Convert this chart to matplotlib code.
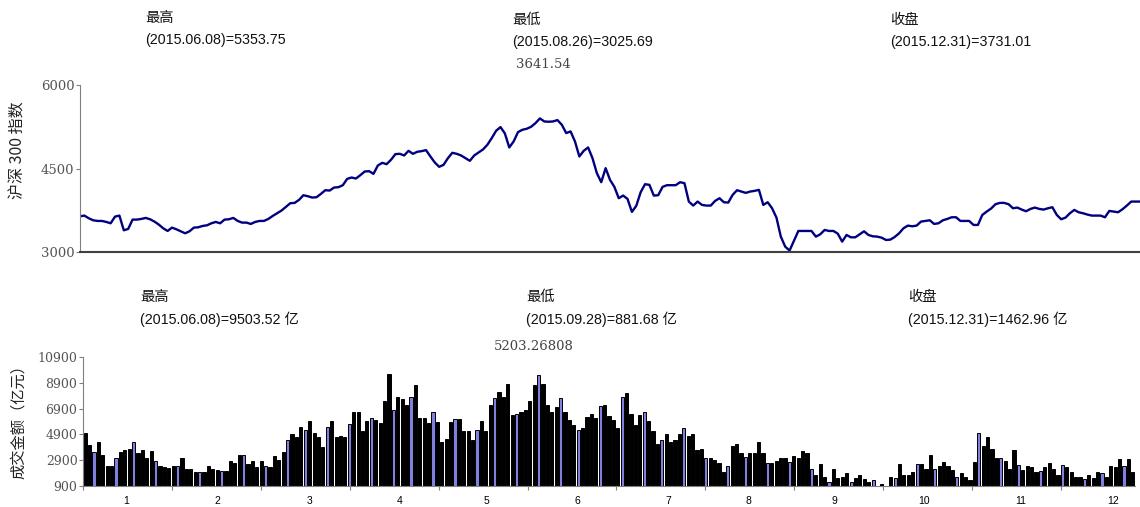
import numpy as np
import matplotlib
matplotlib.use('Agg')
import matplotlib.pyplot as plt

# CSI 300 daily close, 2015
index_close = [
    3642, 3654, 3606, 3570, 3558, 3558, 3540, 3516, 3636, 3654,
    3390, 3414, 3582, 3582, 3594, 3612, 3588, 3546, 3492, 3426,
    3378, 3438, 3408, 3372, 3336, 3372, 3438, 3444, 3468, 3480,
    3516, 3540, 3516, 3582, 3588, 3612, 3558, 3528, 3528, 3504,
    3540, 3558, 3558, 3594, 3648, 3696, 3744, 3810, 3876, 3882,
    3936, 4020, 4002, 3978, 3984, 4044, 4110, 4104, 4158, 4164,
    4200, 4314, 4338, 4320, 4380, 4446, 4452, 4404, 4554, 4602,
    4578, 4656, 4758, 4764, 4734, 4818, 4764, 4800, 4812, 4830,
    4716, 4608, 4530, 4566, 4686, 4782, 4764, 4734, 4686, 4638,
    4734, 4788, 4842, 4926, 5046, 5178, 5244, 5130, 4878, 4986,
    5154, 5196, 5214, 5250, 5316, 5400, 5345, 5340, 5345, 5370,
    5286, 5136, 5166, 4986, 4716, 4818, 4878, 4686, 4416, 4254,
    4506, 4296, 4170, 3966, 4014, 3954, 3720, 3830, 4074, 4218,
    4206, 4014, 4020, 4170, 4200, 4200, 4200, 4254, 4236, 3906,
    3834, 3906, 3846, 3834, 3834, 3918, 3966, 3894, 3888, 4026,
    4110, 4086, 4062, 4086, 4098, 4116, 3846, 3894, 3786, 3618,
    3276, 3096, 3026, 3204, 3378, 3378, 3378, 3378, 3276, 3318,
    3396, 3378, 3378, 3330, 3186, 3306, 3264, 3264, 3318, 3372,
    3306, 3282, 3276, 3258, 3216, 3222, 3270, 3336, 3426, 3474,
    3462, 3474, 3546, 3558, 3570, 3504, 3516, 3570, 3594, 3624,
    3624, 3558, 3558, 3558, 3486, 3486, 3666, 3726, 3780, 3858,
    3882, 3882, 3858, 3786, 3798, 3762, 3732, 3774, 3798, 3774,
    3762, 3786, 3804, 3666, 3588, 3618, 3696, 3756, 3714, 3696,
    3672, 3654, 3654, 3654, 3624, 3738, 3726, 3714, 3768, 3834,
    3906, 3906, 3906,
]

# daily turnover, 100 million yuan
turnover = [
    5030, 4056, 3530, 4319, 3320, 2478, 2478, 3057, 3530, 3714,
    3793, 4319, 3451, 3662, 3083, 3583, 2820, 2478, 2347, 2268,
    2478, 2478, 3083, 2215, 2215, 1952, 1952, 1952, 2478, 2215,
    2136, 2084, 2084, 2820, 2715, 3320, 3320, 2583, 2820, 2347,
    2820, 2425, 2347, 3188, 2951, 3530, 4503, 4898, 4661, 5502,
    5240, 5976, 5030, 4661, 3924, 5502, 5976, 4661, 4766, 4661,
    5713, 6607, 6607, 5161, 5976, 6134, 6028, 5766, 7475, 9553,
    6817, 7817, 7607, 7212, 7791, 8711, 6134, 6134, 5766, 6607,
    5897, 4319, 4529, 5897, 6107, 6107, 5161, 5161, 4451, 5240,
    5976, 5161, 7212, 7685, 8185, 7817, 8790, 6370, 6476, 6607,
    6817, 7475, 8711, 9503.52, 8790, 7212, 6633, 7002, 7685, 6633,
    6028, 5634, 5240, 5371, 6239, 6476, 6134, 7081, 7212, 6292,
    6028, 5371, 7791, 8080, 6502, 5634, 6370, 6607, 5976, 5187,
    4188, 4451, 4898, 4319, 4451, 4898, 5371, 4793, 4898, 3714,
    3793, 3057, 3057, 2951, 2688, 1952, 2452, 4030, 4135, 3451,
    3136, 3451, 3451, 4319, 3451, 2688, 2688, 2820, 3057, 3083,
    2794, 3188, 3083, 3583, 3451, 2215, 1768, 2610, 1610, 1242,
    2215, 1505, 1610, 1873, 1216, 1505, 1742, 1426, 1242, 1373,
    881.68, 1030, 890, 1610, 1505, 2610, 1768, 1768, 2005, 2610,
    2610, 2215, 3320, 2215, 2478, 2741, 2478, 2136, 1610, 1873,
    1636, 1400, 2741, 5030, 3977, 4661, 3793, 3083, 3083, 2873,
    2215, 3714, 2557, 2136, 2478, 2347, 2005, 2084, 2347, 2715,
    2215, 1768, 2557, 2347, 2005, 1610, 1610, 1479, 1742, 1505,
    2005, 1873, 1610, 2478, 2347, 2978, 2478, 2978, 2005,
]

# bars drawn in the lighter colour (one per week)
weekly_mark = [2, 7, 11, 16, 21, 26, 31, 36, 41, 46, 50, 55, 60, 65, 70,
               74, 79, 84, 89, 93, 98, 103, 108, 112, 117, 122, 127, 131,
               136, 141, 146, 150, 155, 160, 165, 169, 174, 179, 184, 189,
               193, 198, 203, 208, 212, 217, 222, 227, 231, 236]

month_labels = [str(m) for m in range(1, 13)]
month_label_pos = [9.3, 30, 50.9, 71.5, 91.1, 111.8, 132.5, 150.6, 170.2,
                   190.6, 212.5, 233.6]

W, H = 1140, 507
fig = plt.figure(figsize=(W / 100, H / 100), dpi=100)

sans = ['Liberation Sans', 'Noto Sans CJK SC', 'DejaVu Sans']
cjk = ['Noto Sans CJK SC', 'DejaVu Sans']
serif = 'DejaVu Serif'


def fx(x):
    return x / W


def fy(y):
    return 1 - y / H


# ---- index line
axt = fig.add_axes([fx(80), fy(252), (1140 - 80) / W, (252 - 85) / H])
axt.plot(np.arange(len(index_close)), index_close, color='#000080', lw=1.7)
axt.set_xlim(0, len(index_close) - 1)
axt.set_ylim(3000, 6000)
axt.set_yticks([3000, 4500, 6000])
axt.set_xticks([])
for s in ['top', 'right']:
    axt.spines[s].set_visible(False)
axt.spines['left'].set_color('#808080')
axt.spines['bottom'].set_color('#404040')
axt.spines['bottom'].set_linewidth(1.5)
axt.tick_params(axis='y', direction='out', length=3, color='#808080',
                labelsize=9.5, labelcolor='#555555', pad=1)
for lab in axt.get_yticklabels():
    lab.set_family(serif)
fig.text(fx(18), fy(150), '沪深 300 指数', rotation=90, ha='center',
         va='center', fontsize=11.5, family=cjk, color='#222222')

# ---- turnover bars
n = len(turnover)
colors = ['#8080e0' if i in weekly_mark else 'black' for i in range(n)]
axb = fig.add_axes([fx(83), fy(486), (1135 - 83) / W, (486 - 357) / H])
axb.bar(np.arange(n), turnover, width=0.72, color=colors,
        edgecolor='black', linewidth=0.7)
axb.set_xlim(-0.5, n - 0.5)
axb.set_ylim(900, 10900)
axb.set_yticks(np.arange(900, 10901, 2000))
axb.set_xticks(np.arange(12) * 20.2 - 0.5)
axb.set_xticklabels([])
axb.set_xticks(month_label_pos, minor=True)
axb.set_xticklabels(month_labels, minor=True, fontsize=7.5, family=sans)
axb.tick_params(axis='x', which='major', direction='out', length=3,
                color='#808080')
axb.tick_params(axis='x', which='minor', length=0, pad=7)
axb.tick_params(axis='y', direction='out', length=3, color='#808080',
                labelsize=9, labelcolor='#555555', pad=1)
for lab in axb.get_yticklabels():
    lab.set_family(serif)
for s in ['top', 'right']:
    axb.spines[s].set_visible(False)
axb.spines['left'].set_color('#808080')
axb.spines['bottom'].set_color('#808080')
fig.text(fx(18), fy(418), '成交金额（亿元）', rotation=90, ha='center',
         va='center', fontsize=11, family=cjk, color='#222222')

# ---- annotations
notes = [
    (145, 18, '最高'), (145, 40, '(2015.06.08)=5353.75'),
    (512, 20, '最低'), (512, 42, '(2015.08.26)=3025.69'),
    (890, 20, '收盘'), (890, 42, '(2015.12.31)=3731.01'),
    (140, 297, '最高'), (140, 319, '(2015.06.08)=9503.52 亿'),
    (526, 297, '最低'), (526, 319, '(2015.09.28)=881.68 亿'),
    (908, 297, '收盘'), (908, 319, '(2015.12.31)=1462.96 亿'),
]
for x, y, t in notes:
    fig.text(fx(x), fy(y), t, ha='left', va='center', fontsize=10.3,
             family=sans, color='#111111')
fig.text(fx(516), fy(64), '3641.54', ha='left', va='center', fontsize=9.5,
         family=serif, color='#444444')
fig.text(fx(494), fy(346), '5203.26808', ha='left', va='center',
         fontsize=9.5, family=serif, color='#444444')

fig.savefig('out.png', dpi=100)
